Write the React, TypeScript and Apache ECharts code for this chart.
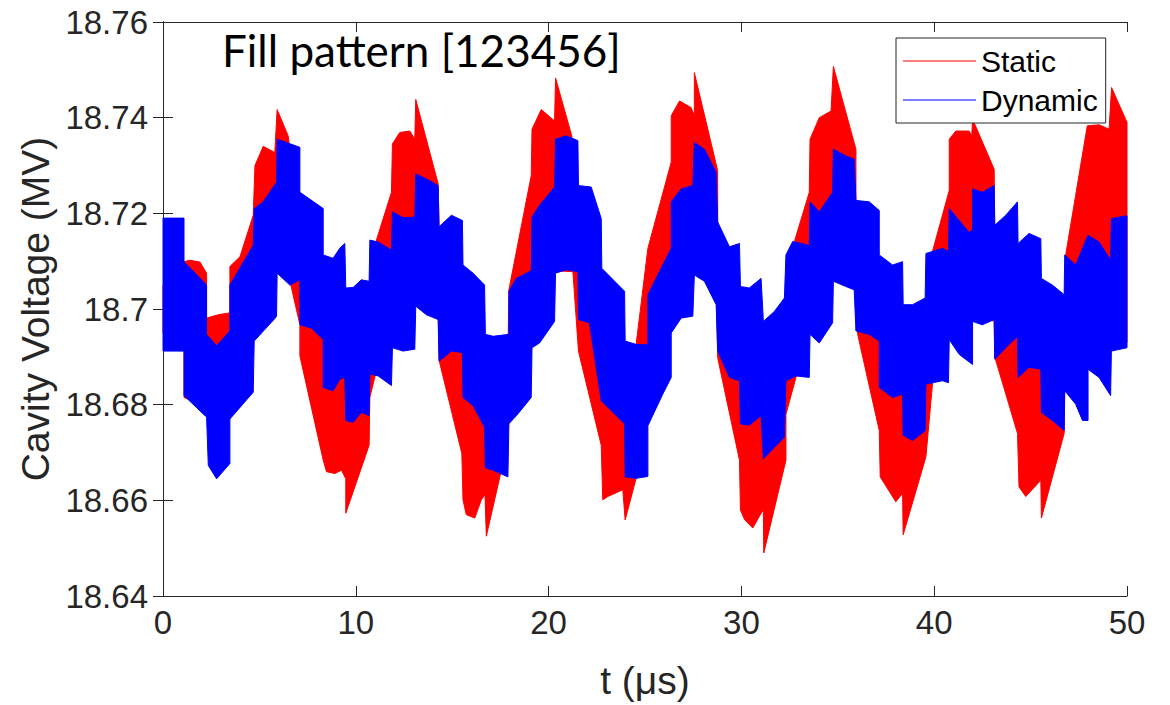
import React, { useEffect, useRef } from "react";
import * as echarts from "echarts";

type Pt = [number, number];

// Envelopes of the fast-oscillating "Static" (red) trace: [t (µs), V (MV)]
const staticUpper: Pt[] = [
  [0, 18.705], [1.09, 18.707], [1.09, 18.7099], [1.4, 18.7102], [1.92, 18.7098], [2.26, 18.7075], [2.26, 18.6981],
  [2.87, 18.6988], [3.47, 18.6992], [3.47, 18.7089], [3.99, 18.7109], [4.68, 18.7196], [4.77, 18.73], [5.2, 18.734],
  [5.8, 18.7327], [5.92, 18.7417], [6.49, 18.7362], [6.7, 18.73], [7.1, 18.722], [8.31, 18.708], [9.43, 18.7],
  [10.73, 18.7], [11.07, 18.7144], [11.85, 18.7244], [11.9, 18.7345], [12.28, 18.7369], [12.8, 18.7372],
  [13.06, 18.7355], [13.11, 18.7438], [14.27, 18.7262], [14.32, 18.716], [15.56, 18.706], [16.72, 18.69],
  [17.9, 18.693], [17.94, 18.704], [19.1, 18.7279], [19.14, 18.7376], [19.62, 18.7417], [20.31, 18.7393],
  [20.36, 18.7483], [21.18, 18.7365], [21.3, 18.734], [21.55, 18.724], [22.76, 18.706], [23.97, 18.69],
  [24.54, 18.6926], [25.15, 18.7127], [26.36, 18.7307], [26.36, 18.7404], [26.79, 18.7435], [27.39, 18.7421],
  [27.56, 18.7404], [27.56, 18.7494], [28.77, 18.7289], [28.77, 18.716], [29.95, 18.703], [31.14, 18.696],
  [32.31, 18.7], [32.75, 18.7141], [33.52, 18.7244], [33.56, 18.7355], [34.04, 18.74], [34.65, 18.7414],
  [34.77, 18.7507], [35.94, 18.7334], [35.94, 18.72], [37.15, 18.709], [38.39, 18.699], [39.57, 18.699],
  [39.91, 18.712], [40.78, 18.7248], [40.78, 18.7355], [41.12, 18.7372], [41.81, 18.7372], [41.95, 18.7362],
  [41.99, 18.7397], [43.11, 18.7292], [43.14, 18.7172], [44.35, 18.711], [45.56, 18.703], [46.77, 18.7],
  [46.82, 18.7113], [47.94, 18.7383], [48.55, 18.7385], [49.07, 18.7376], [49.2, 18.7463], [50, 18.739],
];

const staticLower: Pt[] = [
  [0, 18.695], [1.09, 18.695], [1.09, 18.6815], [1.4, 18.681], [2.18, 18.68], [3.47, 18.68], [4.73, 18.695],
  [5.92, 18.708], [6.49, 18.7075], [7.1, 18.6967], [7.1, 18.6902], [8.31, 18.6684], [8.48, 18.666],
  [8.91, 18.6656], [9.26, 18.6663], [9.48, 18.6645], [9.48, 18.6573], [10.69, 18.6715], [10.73, 18.6815],
  [10.98, 18.6857], [11.16, 18.69], [11.9, 18.695], [13.11, 18.703], [14.27, 18.7], [14.32, 18.6893],
  [15.5, 18.6698], [15.56, 18.6601], [15.73, 18.657], [16.17, 18.6563], [16.51, 18.6601], [16.7, 18.6612],
  [16.77, 18.6525], [17.55, 18.6663], [17.94, 18.676], [19.14, 18.693], [20.36, 18.708], [21.26, 18.7078],
  [21.55, 18.6912], [22.73, 18.6715], [22.81, 18.6601], [23.07, 18.6608], [23.85, 18.6622], [23.97, 18.6559],
  [24.54, 18.6646], [25.15, 18.677], [26.36, 18.696], [27.56, 18.7075], [28.69, 18.706], [28.77, 18.6898],
  [29.9, 18.6684], [29.95, 18.658], [30.16, 18.656], [30.59, 18.6542], [31.02, 18.6573], [31.14, 18.658],
  [31.16, 18.649], [32.31, 18.6684], [32.31, 18.678], [32.83, 18.6857], [33.56, 18.695], [34.77, 18.706],
  [35.85, 18.706], [36.03, 18.6947], [37.15, 18.6746], [37.2, 18.6649], [38.01, 18.6597], [38.36, 18.6615],
  [38.39, 18.6528], [39.57, 18.6691], [39.91, 18.6843], [40.78, 18.694], [41.99, 18.698], [43.11, 18.6975],
  [43.14, 18.69], [44.32, 18.674], [44.4, 18.6628], [44.75, 18.6608], [45.53, 18.6642], [45.56, 18.6563],
  [46.74, 18.674], [46.77, 18.684], [47.98, 18.688], [49.19, 18.693], [50, 18.693],
];

// Envelopes of the "Dynamic" (blue) trace
const dynamicUpper: Pt[] = [
  [0, 18.719], [1.09, 18.719], [1.09, 18.7099], [2.26, 18.705], [2.26, 18.6947], [2.78, 18.6923], [3.47, 18.6954],
  [3.47, 18.705], [4.68, 18.7133], [4.73, 18.721], [5.2, 18.7224], [5.89, 18.7265], [5.92, 18.7355], [7.1, 18.7338],
  [7.1, 18.7244], [8.31, 18.721], [8.31, 18.7113], [8.82, 18.7106], [9.17, 18.7127], [9.43, 18.7137], [9.48, 18.7044],
  [9.86, 18.7045], [10.29, 18.7061], [10.69, 18.7058], [10.73, 18.7144], [11.16, 18.714], [11.85, 18.7123],
  [11.9, 18.7203], [12.45, 18.7191], [13.06, 18.7192], [13.11, 18.7282], [13.66, 18.7272], [14.27, 18.7258],
  [14.32, 18.7172], [14.96, 18.7196], [15.53, 18.7185], [15.56, 18.7092], [16.08, 18.7075], [16.68, 18.705],
  [16.72, 18.6947], [17.12, 18.6943], [17.94, 18.6947], [17.94, 18.7037], [18.33, 18.7064], [19.1, 18.708],
  [19.14, 18.7192], [19.53, 18.7217], [20.31, 18.7255], [20.36, 18.7355], [20.92, 18.7362], [21.52, 18.7352],
  [21.55, 18.7258], [22.21, 18.7255], [22.73, 18.7189], [22.76, 18.7085], [23.94, 18.7037], [23.97, 18.6933],
  [24.54, 18.6926], [25.15, 18.6925], [25.15, 18.703], [25.92, 18.7092], [26.36, 18.7127], [26.36, 18.7224],
  [26.88, 18.7251], [27.48, 18.7258], [27.56, 18.7348], [28.08, 18.7334], [28.69, 18.7286], [28.77, 18.7182],
  [29.38, 18.713], [29.9, 18.7137], [29.95, 18.7047], [30.41, 18.7044], [31.02, 18.7064], [31.14, 18.6974],
  [31.71, 18.6995], [32.23, 18.7023], [32.31, 18.7113], [32.66, 18.7141], [33.52, 18.7133], [33.56, 18.7224],
  [34.04, 18.7203], [34.73, 18.7244], [34.77, 18.7334], [35.42, 18.732], [35.85, 18.7313], [35.94, 18.7227],
  [36.63, 18.7224], [37.15, 18.7206], [37.15, 18.7113], [37.84, 18.7092], [38.36, 18.7099], [38.39, 18.7009],
  [38.88, 18.7009], [39.53, 18.7023], [39.57, 18.7116], [40.43, 18.7127], [40.74, 18.712], [40.78, 18.721],
  [41.21, 18.7189], [41.81, 18.716], [41.99, 18.7165], [41.99, 18.7251], [42.5, 18.7244], [43.11, 18.7258],
  [43.14, 18.7175], [43.71, 18.7196], [44.32, 18.7224], [44.35, 18.7137], [44.92, 18.7158], [45.53, 18.7147],
  [45.56, 18.7064], [46.13, 18.705], [46.74, 18.703], [46.77, 18.7113], [47.34, 18.7092], [47.94, 18.7151],
  [47.98, 18.7154], [48.55, 18.714], [49.15, 18.7102], [49.19, 18.7189], [50, 18.7195],
];

const dynamicLower: Pt[] = [
  [0, 18.6912], [1.09, 18.6912], [1.09, 18.6819], [2.18, 18.6777], [2.26, 18.6775], [2.35, 18.6673], [2.78, 18.6645],
  [3.47, 18.6677], [3.47, 18.677], [4.68, 18.6826], [4.73, 18.6933], [5.8, 18.698], [5.89, 18.6985], [5.92, 18.7075],
  [6.58, 18.705], [7.1, 18.7061], [7.1, 18.6967], [7.7, 18.696], [8.31, 18.6936], [8.31, 18.6836], [8.82, 18.6829],
  [9.17, 18.6853], [9.43, 18.6857], [9.48, 18.6767], [9.86, 18.6763], [10.29, 18.6784], [10.69, 18.6777],
  [10.73, 18.6864], [11.16, 18.686], [11.85, 18.684], [11.9, 18.6919], [12.45, 18.6912], [13.06, 18.6916],
  [13.11, 18.7006], [13.66, 18.6988], [14.27, 18.6978], [14.32, 18.6891], [14.96, 18.6912], [15.53, 18.6909],
  [15.56, 18.6815], [16.08, 18.6798], [16.68, 18.6753], [16.72, 18.6668], [17.12, 18.6663], [17.89, 18.6649],
  [17.94, 18.676], [18.33, 18.6777], [19.1, 18.6815], [19.14, 18.6919], [19.53, 18.6929], [20.31, 18.6974],
  [20.36, 18.7075], [20.92, 18.7082], [21.52, 18.7078], [21.55, 18.6978], [22.12, 18.6971], [22.73, 18.6808],
  [23.94, 18.676], [23.97, 18.6649], [24.54, 18.6646], [25.15, 18.665], [25.15, 18.6756], [25.92, 18.6822],
  [26.36, 18.6857], [26.36, 18.695], [26.88, 18.6981], [27.48, 18.6985], [27.56, 18.7071], [28.08, 18.7058],
  [28.69, 18.7009], [28.77, 18.6912], [29.38, 18.6857], [29.9, 18.685], [29.95, 18.676], [30.41, 18.6757],
  [31.02, 18.6777], [31.14, 18.6687], [31.71, 18.6711], [32.23, 18.6732], [32.31, 18.685], [32.83, 18.686],
  [33.52, 18.6857], [33.56, 18.6947], [34.04, 18.6929], [34.73, 18.6971], [34.77, 18.7058], [35.42, 18.7047],
  [35.85, 18.704], [35.94, 18.6954], [36.63, 18.6947], [37.15, 18.6933], [37.15, 18.6836], [37.84, 18.6815],
  [38.36, 18.6822], [38.39, 18.6736], [38.88, 18.6725], [39.53, 18.6746], [39.57, 18.6843], [40.43, 18.685],
  [40.74, 18.6846], [40.78, 18.6936], [41.3, 18.6905], [41.99, 18.6884], [41.99, 18.6974], [42.5, 18.6967],
  [43.11, 18.6978], [43.14, 18.6895], [43.71, 18.6919], [44.32, 18.6943], [44.35, 18.6857], [44.92, 18.6878],
  [45.53, 18.6874], [45.56, 18.6784], [46.13, 18.6767], [46.74, 18.6746], [46.77, 18.6829], [47.34, 18.6801],
  [47.69, 18.6767], [47.98, 18.6767], [47.98, 18.6874], [48.55, 18.6857], [49.15, 18.6819], [49.19, 18.6912],
  [50, 18.6919],
];

const seriesNames = ["Static", "Dynamic"];
const seriesColors = ["#ff0000", "#0000ff"];
const titleText = "Fill pattern [123456]";
const xName = "t (\u03bcs)";
const yName = "Cavity Voltage (MV)";

const AXIS = "#262626";
const FONT = "Liberation Sans";

export default function App() {
  const ref = useRef<HTMLDivElement>(null);
  useEffect(() => {
    document.body.style.margin = "0";
    const chart = echarts.init(ref.current!, null, { renderer: "svg" });

    const band = (upper: Pt[], lower: Pt[], color: string) => (params: any, api: any) => {
      if (params.dataIndex !== 0) return null;
      const pts = upper.map((p) => api.coord(p)).concat(lower.slice().reverse().map((p) => api.coord(p)));
      return { type: "polygon", shape: { points: pts }, style: { fill: color, stroke: color, lineWidth: 1 } };
    };

    const common = {
      type: "value",
      axisLine: { show: true, lineStyle: { color: AXIS, width: 1 } },
      axisTick: { show: true, inside: true, length: 10, lineStyle: { color: AXIS, width: 1 } },
      splitLine: { show: false },
    };

    const lineIcon = "path://M0,0 L73,0 L73,1 L0,1 Z";

    chart.setOption({
      animation: false,
      backgroundColor: "#ffffff",
      title: {
        text: titleText,
        left: 222,
        top: 28,
        padding: 0,
        textStyle: { fontFamily: "Lato", fontSize: 44, fontWeight: "normal", color: "#000000" },
      },
      legend: {
        data: [
          { name: seriesNames[0], icon: lineIcon },
          { name: seriesNames[1], icon: lineIcon },
        ],
        orient: "vertical",
        left: 896,
        top: 38,
        itemWidth: 73,
        itemHeight: 1.3,
        itemGap: 9,
        padding: [8, 8, 8, 7],
        borderColor: AXIS,
        borderWidth: 1,
        borderRadius: 0,
        backgroundColor: "#ffffff",
        selectedMode: false,
        itemStyle: { borderWidth: 0 },
        textStyle: { fontFamily: FONT, fontSize: 30, color: "#000000", lineHeight: 30 },
      },
      grid: { left: 163, right: 43, top: 22, bottom: 105, containLabel: false },
      xAxis: [
        {
          ...common,
          min: 0,
          max: 50,
          interval: 10,
          position: "bottom",
          axisLabel: { fontFamily: FONT, fontSize: 33, color: AXIS, margin: 10 },
          name: xName,
          nameLocation: "middle",
          nameGap: 65,
          nameTextStyle: { fontFamily: FONT, fontSize: 39, color: AXIS },
        },
        { ...common, min: 0, max: 50, interval: 10, position: "top", axisLabel: { show: false } },
      ],
      yAxis: [
        {
          ...common,
          min: 18.64,
          max: 18.76,
          interval: 0.02,
          position: "left",
          axisLabel: {
            fontFamily: FONT,
            fontSize: 33,
            color: AXIS,
            margin: 15,
            formatter: (v: number) => String(parseFloat(v.toFixed(2))),
          },
          name: yName,
          nameLocation: "middle",
          nameGap: 105,
          nameTextStyle: { fontFamily: FONT, fontSize: 39, color: AXIS },
        },
        { ...common, min: 18.64, max: 18.76, interval: 0.02, position: "right", axisLabel: { show: false } },
      ],
      series: [
        {
          name: seriesNames[0],
          type: "custom",
          xAxisIndex: 0,
          yAxisIndex: 0,
          itemStyle: { color: seriesColors[0] },
          data: [staticUpper[0]],
          renderItem: band(staticUpper, staticLower, seriesColors[0]),
          silent: true,
          z: 2,
        },
        {
          name: seriesNames[1],
          type: "custom",
          xAxisIndex: 0,
          yAxisIndex: 0,
          itemStyle: { color: seriesColors[1] },
          data: [dynamicUpper[0]],
          renderItem: band(dynamicUpper, dynamicLower, seriesColors[1]),
          silent: true,
          z: 3,
        },
      ],
    });
    return () => chart.dispose();
  }, []);
  return <div ref={ref} style={{ width: 1170, height: 705 }} />;
}
